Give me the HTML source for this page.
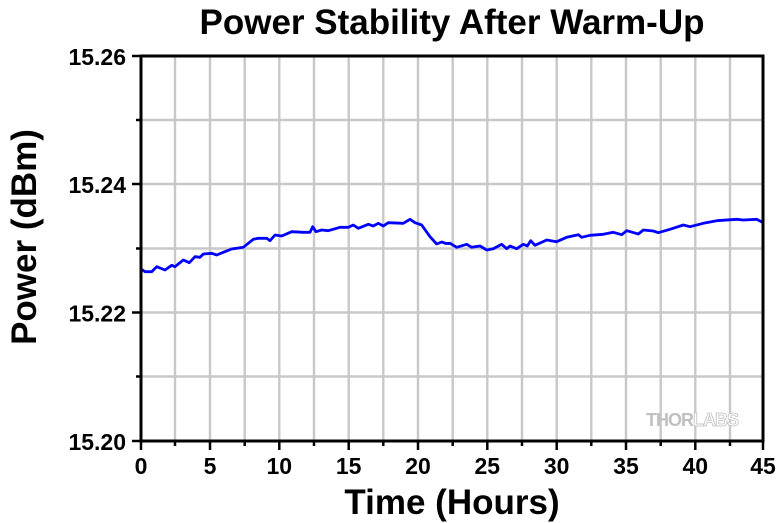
<!DOCTYPE html>
<html><head><meta charset="utf-8"><style>
body{margin:0;background:#fff;}
svg{display:block;font-family:"Liberation Sans",Arial,sans-serif;font-weight:bold;}
</style></head><body>
<svg width="780" height="523" viewBox="0 0 780 523">
<rect width="780" height="523" fill="#fff"/>
<g stroke="#c8c8c8" stroke-width="2.4">
<line x1="175" y1="56" x2="175" y2="441"/><line x1="210" y1="56" x2="210" y2="441"/><line x1="244.7" y1="56" x2="244.7" y2="441"/><line x1="279.3" y1="56" x2="279.3" y2="441"/><line x1="314" y1="56" x2="314" y2="441"/><line x1="348.7" y1="56" x2="348.7" y2="441"/><line x1="383.3" y1="56" x2="383.3" y2="441"/><line x1="418" y1="56" x2="418" y2="441"/><line x1="452.7" y1="56" x2="452.7" y2="441"/><line x1="487.3" y1="56" x2="487.3" y2="441"/><line x1="522" y1="56" x2="522" y2="441"/><line x1="556.7" y1="56" x2="556.7" y2="441"/><line x1="591.3" y1="56" x2="591.3" y2="441"/><line x1="626" y1="56" x2="626" y2="441"/><line x1="660.7" y1="56" x2="660.7" y2="441"/><line x1="695.3" y1="56" x2="695.3" y2="441"/><line x1="730" y1="56" x2="730" y2="441"/>
<line x1="141" y1="120" x2="763" y2="120"/><line x1="141" y1="184" x2="763" y2="184"/><line x1="141" y1="248.5" x2="763" y2="248.5"/><line x1="141" y1="312.5" x2="763" y2="312.5"/><line x1="141" y1="376.5" x2="763" y2="376.5"/>
</g>
<text x="692" y="426" font-size="18" fill="#c0c0c0" text-anchor="middle" letter-spacing="-1">THOR<tspan fill="#fff" stroke="#c0c0c0" stroke-width="0.8">LABS</tspan></text>
<polyline fill="none" stroke="#0000ff" stroke-width="2.8" stroke-linejoin="round" points="141,269 145,271.7 151.7,271.7 156.7,266.7 165,270 171.7,265.3 175,266.7 183.3,260 189.3,262.7 195,256.7 200,257.3 203.3,254 211.7,253.3 216.7,255 223.3,252.3 231.7,249 243.3,247.3 253.3,239.3 258.3,238.3 266.7,238.3 270,240.7 275,235 281.7,236 291.7,231.7 303.3,232.3 310,232.3 312.7,226.7 316,231.7 321.7,230 328.3,230.7 340,227.3 348.3,227.3 353.3,225 358.3,228.3 368.3,224.3 373.3,226 378.3,223.3 383.3,226 388.3,222.7 403.3,223.3 410,219.3 415,222.7 421.7,225 430,236.7 436.7,244 441.7,242 446,243.5 450,243.3 456.7,247.3 466.7,244.3 471.7,247.3 480,246 486.7,250 493.3,248.7 501.7,244.3 506.7,248.7 510,246 516.7,248.7 523.3,244.3 527.3,246 530.7,240.7 535,245.3 546.7,240 556.7,241.7 566.7,237.3 578.3,234.7 581.7,237.3 590,235.3 603.3,234.3 613.3,232.3 621.7,234.7 626.7,230.7 638.3,234 643.3,230 653.3,231 658.3,232.7 670,229.3 683.3,225 690,226.7 703.3,223.3 716.7,220.7 736.7,219.3 743.3,220 756.7,219.3 763.3,222.7"/>
<g stroke="#000" fill="none">
<rect x="141" y="56" width="622" height="385" stroke-width="3"/>
<g stroke-width="2.5">
<line x1="141" y1="441" x2="141" y2="450"/><line x1="210" y1="441" x2="210" y2="450"/><line x1="279.3" y1="441" x2="279.3" y2="450"/><line x1="348.7" y1="441" x2="348.7" y2="450"/><line x1="418" y1="441" x2="418" y2="450"/><line x1="487.3" y1="441" x2="487.3" y2="450"/><line x1="556.7" y1="441" x2="556.7" y2="450"/><line x1="626" y1="441" x2="626" y2="450"/><line x1="695.3" y1="441" x2="695.3" y2="450"/><line x1="763" y1="441" x2="763" y2="450"/>
<line x1="175" y1="441" x2="175" y2="446"/><line x1="244.7" y1="441" x2="244.7" y2="446"/><line x1="314" y1="441" x2="314" y2="446"/><line x1="383.3" y1="441" x2="383.3" y2="446"/><line x1="452.7" y1="441" x2="452.7" y2="446"/><line x1="522" y1="441" x2="522" y2="446"/><line x1="591.3" y1="441" x2="591.3" y2="446"/><line x1="660.7" y1="441" x2="660.7" y2="446"/><line x1="730" y1="441" x2="730" y2="446"/>
<line x1="132" y1="56" x2="141" y2="56"/><line x1="132" y1="184" x2="141" y2="184"/><line x1="132" y1="312.5" x2="141" y2="312.5"/><line x1="132" y1="441" x2="141" y2="441"/>
<line x1="136" y1="120" x2="141" y2="120"/><line x1="136" y1="248.5" x2="141" y2="248.5"/><line x1="136" y1="376.5" x2="141" y2="376.5"/>
</g></g>
<g font-size="23" fill="#000">
<g text-anchor="end"><text x="126" y="65">15.26</text><text x="126" y="193">15.24</text><text x="126" y="321.5">15.22</text><text x="126" y="450">15.20</text></g>
<g text-anchor="middle"><text x="141" y="474">0</text><text x="210" y="474">5</text><text x="279.3" y="474">10</text><text x="348.7" y="474">15</text><text x="418" y="474">20</text><text x="487.3" y="474">25</text><text x="556.7" y="474">30</text><text x="626" y="474">35</text><text x="695.3" y="474">40</text><text x="763" y="474">45</text></g>
</g>
<text x="452" y="34" font-size="35" text-anchor="middle">Power Stability After Warm-Up</text>
<text x="452" y="514" font-size="35" text-anchor="middle">Time (Hours)</text>
<text transform="translate(36,237) rotate(-90)" font-size="35" text-anchor="middle">Power (dBm)</text>
</svg>
</body></html>
